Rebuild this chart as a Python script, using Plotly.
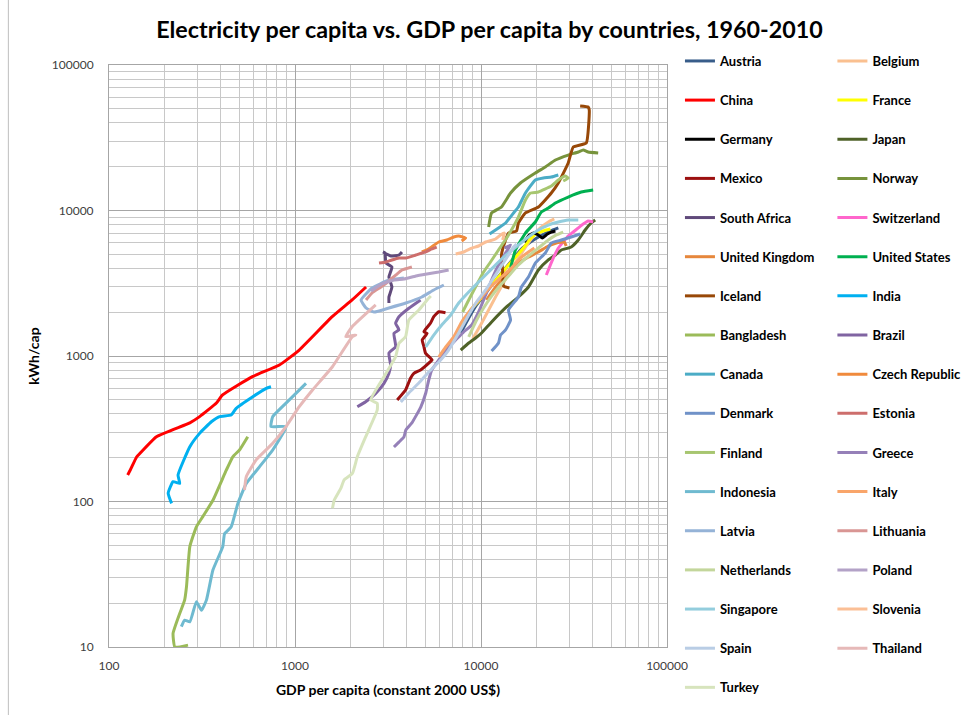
import plotly.graph_objects as go

# ---------------- data (GDP per capita, constant 2000 US$ ; kWh per capita) ----------------
austria_gdp = [7780, 8590, 9465, 10592, 11668, 12882, 14420, 16293, 18450, 20845, 23605, 26044]
austria_kwh = [1439, 1824, 2244, 2710, 3177, 3719, 4426, 5353, 6074, 6683, 7228, 7586]

belgium_gdp = [9016, 9954, 10990, 11967, 13213, 14420, 15885, 17338, 19143, 20845, 23014, 24774]
belgium_kwh = [1309, 1633, 2070, 2544, 3177, 3899, 4715, 5610, 6683, 7586, 8337, 8750]

china_gdp = [126, 130, 141, 147, 180, 272, 307, 378, 408, 590, 824, 1054, 1585, 2028, 2410]
china_kwh = [152, 164, 203, 215, 279, 347, 383, 475, 540, 721, 867, 1099, 1862, 2427, 2979]

france_gdp = [7396, 8068, 8790, 9829, 10990, 12417, 14060, 15524, 16904, 18197, 19364, 20845, 22439, 23605]
france_kwh = [1372, 1714, 2070, 2427, 2931, 3491, 4221, 4868, 5521, 6266, 6792, 7112, 7345, 7464]

germany_gdp = [17123, 17989, 19143, 20350, 21380, 22751, 23878, 25119]
germany_kwh = [6074, 6683, 6998, 6792, 6471, 6894, 7112, 7228]

japan_gdp = [7780, 8590, 9354, 10070, 11402, 13709, 15885, 17989, 20350, 23014, 25119, 27040, 30549, 33343, 36308, 39084, 41115]
japan_kwh = [1099, 1228, 1330, 1439, 1714, 2173, 2544, 2979, 3899, 4571, 4943, 5353, 5610, 6266, 7345, 8204, 8610]

mexico_gdp = [3544, 3931, 4178, 4355, 4732, 5346, 5458, 5035, 4932, 4831, 5130, 4932, 5346, 5572, 5929, 6442]
mexico_kwh = [499, 584, 703, 760, 801, 914, 939, 1045, 1159, 1288, 1432, 1469, 1679, 1862, 2014, 1985]

norway_gdp = [10990, 11402, 12882, 14420, 16293, 19588, 22182, 25119, 29444, 33343, 35450, 37670, 42658]
norway_kwh = [7709, 9616, 10570, 13180, 15450, 18110, 19910, 22230, 24050, 25240, 26060, 25240, 24850]

safrica_gdp = [3199, 3199, 3319, 3199, 3319, 3083, 3046, 2972, 3281, 3622, 3758]
safrica_kwh = [2312, 2544, 2979, 3491, 4093, 4355, 5105, 5188, 4868, 4943, 5188]

swiss_gdp = [22439, 23605, 24774, 26044, 27669, 29444, 31333, 33343, 35450, 37670, 40087]
swiss_kwh = [3606, 4221, 4868, 5521, 6074, 6683, 7112, 7586, 8072, 8472, 8337]

uk_gdp = [10715, 11668, 12882, 14060, 15885, 17989, 20350, 23014, 25410, 28054, 28708]
uk_kwh = [2427, 2844, 3327, 3776, 4355, 4790, 5188, 5702, 5984, 6074, 5702]

us_gdp = [14420, 15311, 17338, 19588, 21111, 23014, 25119, 29444, 34594, 40087]
us_kwh = [4027, 5353, 6998, 8337, 9772, 10400, 11270, 12380, 13400, 13830]

iceland_gdp = [14223, 13213, 13062, 12882, 13552, 14060, 15524, 15885, 17338, 20350, 23878, 26044, 29444, 31333, 36813, 38194, 37670, 34119]
iceland_kwh = [2931, 3027, 3899, 4943, 6266, 6998, 7228, 8204, 9616, 10570, 13180, 15450, 21210, 27320, 29100, 49070, 51420, 52270]

india_gdp = [217, 208, 221, 240, 235, 272, 307, 355, 393, 454, 483, 593, 700, 743]
india_kwh = [97, 114, 137, 133, 152, 238, 294, 353, 383, 393, 437, 525, 600, 615]

bangladesh_gdp = [266, 226, 221, 240, 255, 261, 272, 295, 320, 362, 427, 463, 503, 557]
bangladesh_kwh = [10.3, 10.0, 12.4, 17, 21, 26, 49, 67, 79, 102, 164, 203, 226, 279]

brazil_gdp = [2163, 2400, 2716, 3008, 3199, 3266, 3199, 3475, 3404, 3622, 3475, 3622, 4093, 4732]
brazil_kwh = [448, 485, 554, 649, 760, 867, 1045, 1159, 1432, 1510, 1679, 1862, 2128, 2427]

canada_gdp = [11117, 12417, 13552, 14962, 15885, 17338, 19588, 21627, 23878, 26044]
canada_kwh = [6894, 7586, 8204, 9616, 10570, 13180, 16210, 16730, 16980, 17540]

czech_gdp = [4808, 5236, 5929, 6546, 7135, 7586, 8270, 7870]
czech_kwh = [5188, 5438, 6074, 6266, 6577, 6683, 6471, 6171]

denmark_gdp = [11402, 12417, 12735, 13552, 14420, 14060, 15885, 16482, 17989, 19588, 22182, 23878, 27040, 30549, 34119]
denmark_kwh = [1081, 1228, 1393, 1510, 1767, 2070, 2544, 2979, 3491, 4355, 5105, 5984, 6266, 6577, 6894]

estonia_gdp = [2829, 3083, 3319, 3622, 3945, 4465, 5047, 5433, 5781]
estonia_kwh = [4355, 4426, 4571, 4715, 4715, 4943, 5188, 5438, 5610]

finland_gdp = [7970, 8590, 9465, 10325, 11246, 12417, 14060, 15885, 17338, 18450, 20350, 23878, 26044, 28379, 29444, 27669]
finland_kwh = [2005, 2427, 3076, 3776, 4426, 5353, 6792, 9016, 11800, 13180, 13400, 14720, 16210, 17260, 16730, 15950]

greece_gdp = [3404, 3622, 3850, 3945, 4250, 4745, 5047, 5237, 5433, 5929, 6700, 7311, 8068, 8913, 9706, 10592, 11402, 12417, 13552, 14420, 13366]
greece_kwh = [237, 256, 277, 310, 347, 446, 557, 684, 801, 939, 1153, 1288, 1462, 1633, 2006, 2625, 3327, 4217, 5105, 5794, 5521]

indonesia_gdp = [245, 255, 272, 295, 314, 334, 362, 409, 418, 454, 493, 547, 644, 759, 895, 743, 759, 932, 1146]
indonesia_kwh = [13.8, 15.3, 14.9, 20.5, 17.9, 21, 33.8, 49, 60, 67, 97, 133, 173, 226, 327, 327, 383, 499, 649]

italy_gdp = [5929, 6461, 7135, 7870, 8790, 9954, 11246, 12882, 14588, 16293, 17989, 19364]
italy_kwh = [984, 1153, 1352, 1714, 2070, 2506, 2979, 3491, 4027, 4715, 5188, 5521]

latvia_gdp = [3850, 3199, 2594, 2265, 2410, 2661, 3199, 3945, 4808, 5572, 6310]
latvia_kwh = [3436, 3327, 2931, 2427, 2138, 2005, 2138, 2312, 2544, 2844, 3076]

lithuania_gdp = [2410, 2594, 2897, 3199, 3488, 3758, 4250]
lithuania_kwh = [2427, 2710, 2979, 3278, 3606, 3899, 4093]

netherlands_gdp = [8590, 9354, 10325, 11402, 12735, 14223, 15885, 17989, 20350, 23014, 25410, 27669]
netherlands_kwh = [1352, 1714, 2138, 2582, 3076, 3606, 4221, 4868, 5521, 6266, 6792, 7112]

poland_gdp = [2564, 2935, 3404, 3850, 4465, 5112, 5929, 6700]
poland_kwh = [2799, 3126, 3327, 3381, 3548, 3660, 3776, 3899]

singapore_gdp = [5047, 5572, 6152, 6875, 7586, 8590, 9706, 10990, 12417, 14060, 15885, 17989, 20350, 23014, 26044, 29444, 33343]
singapore_kwh = [1153, 1393, 1633, 1914, 2312, 2754, 3228, 3776, 4426, 5105, 5794, 6577, 7345, 7947, 8337, 8610, 8610]

slovenia_gdp = [7311, 8068, 8913, 9706, 10592, 11967, 12735, 13366, 13062]
slovenia_kwh = [5023, 5188, 5521, 5702, 6074, 6368, 6792, 6998, 6266]

spain_gdp = [3707, 4093, 4634, 5236, 5929, 6700, 7586, 8590, 9465, 10592, 11668, 12882, 14060, 14962, 15524]
spain_kwh = [483, 557, 652, 776, 910, 1099, 1439, 1914, 2350, 2844, 3436, 4159, 4943, 5610, 5888]

thailand_gdp = [535, 547, 618, 759, 895, 1054, 1242, 1589, 2035, 2122, 1875, 2028, 2716]
thailand_kwh = [120, 148, 193, 251, 327, 448, 584, 844, 1358, 1393, 1358, 1589, 2244]

turkey_gdp = [1591, 1624, 1763, 1837, 2035, 2163, 2400, 2768, 2768, 2553, 3008, 3475, 3622, 3931, 4093, 4634, 5130, 5372]
turkey_kwh = [89.8, 102, 123, 141, 156, 203, 279, 425, 473, 499, 721, 989, 1222, 1358, 1767, 2070, 2427, 2584]

countries = ["Austria", "Belgium", "China", "France", "Germany", "Japan", "Mexico", "Norway",
             "South Africa", "Switzerland", "United Kingdom", "United States", "Iceland", "India",
             "Bangladesh", "Brazil", "Canada", "Czech Republic", "Denmark", "Estonia", "Finland",
             "Greece", "Indonesia", "Italy", "Latvia", "Lithuania", "Netherlands", "Poland",
             "Singapore", "Slovenia", "Spain", "Thailand", "Turkey"]

gdp_series = [austria_gdp, belgium_gdp, china_gdp, france_gdp, germany_gdp, japan_gdp, mexico_gdp,
              norway_gdp, safrica_gdp, swiss_gdp, uk_gdp, us_gdp, iceland_gdp, india_gdp,
              bangladesh_gdp, brazil_gdp, canada_gdp, czech_gdp, denmark_gdp, estonia_gdp,
              finland_gdp, greece_gdp, indonesia_gdp, italy_gdp, latvia_gdp, lithuania_gdp,
              netherlands_gdp, poland_gdp, singapore_gdp, slovenia_gdp, spain_gdp, thailand_gdp,
              turkey_gdp]
kwh_series = [austria_kwh, belgium_kwh, china_kwh, france_kwh, germany_kwh, japan_kwh, mexico_kwh,
              norway_kwh, safrica_kwh, swiss_kwh, uk_kwh, us_kwh, iceland_kwh, india_kwh,
              bangladesh_kwh, brazil_kwh, canada_kwh, czech_kwh, denmark_kwh, estonia_kwh,
              finland_kwh, greece_kwh, indonesia_kwh, italy_kwh, latvia_kwh, lithuania_kwh,
              netherlands_kwh, poland_kwh, singapore_kwh, slovenia_kwh, spain_kwh, thailand_kwh,
              turkey_kwh]

colors = ["#385D8A", "#FAC090", "#FF0000", "#FFFF00", "#000000", "#4F6228", "#9C1010", "#77933C",
          "#604A7B", "#FF66CC", "#E6873C", "#00B050", "#984807", "#00B0F0", "#9BBB59", "#8064A2",
          "#4BACC6", "#F08A3C", "#7092C8", "#CD6E6C", "#A7C670", "#9580B8", "#6FBAD0", "#F9A56A",
          "#95B3D7", "#D99694", "#C3D69B", "#B3A2C7", "#93CDDD", "#FBBF96", "#B9CDE5", "#E6B9B8",
          "#D7E4BD"]

x_tick_vals = [100, 1000, 10000, 100000]
x_tick_text = ["100", "1000", "10000", "100000"]
y_tick_vals = [10, 100, 1000, 10000, 100000]
y_tick_text = ["10", "100", "1000", "10000", "100000"]

FONT = "Lato, 'Open Sans', sans-serif"

fig = go.Figure()
for i, (name, gx, ky, col) in enumerate(zip(countries, gdp_series, kwh_series, colors)):
    fig.add_trace(go.Scatter(
        x=gx, y=ky, mode="lines", name=name,
        line=dict(color=col, width=3, shape="spline", smoothing=0.4),
        legendgroup=name,
        legend="legend" if i % 2 == 0 else "legend2",
    ))

legend_common = dict(
    font=dict(family=FONT, size=13, color="#000000", weight="bold"),
    bgcolor="rgba(0,0,0,0)",
    tracegroupgap=19.25,
    yanchor="top",
    itemwidth=30,
    maxheight=700,
)

fig.update_layout(
    width=979, height=715,
    margin=dict(l=109, r=310, t=65, b=68),
    paper_bgcolor="white", plot_bgcolor="white",
    title=dict(text="Electricity per capita vs. GDP per capita by countries, 1960-2010",
               x=0.5, xref="container", xanchor="center",
               y=1 - 30 / 715, yref="container", yanchor="middle",
               font=dict(family=FONT, size=23.3, color="#000000", weight="bold")),
    xaxis=dict(type="log", range=[2, 5], tickvals=x_tick_vals, ticktext=x_tick_text,
               showgrid=True, gridcolor="#A6A6A6", gridwidth=1,
               minor=dict(dtick="D1", showgrid=True, gridcolor="#C8C8C8", gridwidth=1, ticks=""),
               showline=True, linecolor="#A6A6A6", linewidth=1, mirror=True,
               ticks="", ticklabelstandoff=8, zeroline=False,
               tickfont=dict(family=FONT, size=12, color="#404040"),
               title=dict(text="GDP per capita (constant 2000 US$)", standoff=12,
                          font=dict(family=FONT, size=14, color="#000000", weight="bold"))),
    yaxis=dict(type="log", range=[1, 5], tickvals=y_tick_vals, ticktext=y_tick_text,
               showgrid=True, gridcolor="#A6A6A6", gridwidth=1,
               minor=dict(dtick="D1", showgrid=True, gridcolor="#C8C8C8", gridwidth=1, ticks=""),
               showline=True, linecolor="#A6A6A6", linewidth=1, mirror=True,
               ticks="", ticklabelstandoff=12, zeroline=False,
               tickfont=dict(family=FONT, size=12, color="#404040"),
               title=dict(text="kWh/cap", standoff=8,
                          font=dict(family=FONT, size=14, color="#000000", weight="bold"))),
    legend=dict(x=(682 - 109) / 560, y=(647 - 46) / 582, xanchor="left", **legend_common),
    legend2=dict(x=(835 - 109) / 560, y=(647 - 46) / 582, xanchor="left", **legend_common),
    showlegend=True,
)

fig.add_shape(type="line", xref="paper", yref="paper",
              x0=(8 - 109) / 560, x1=(8 - 109) / 560, y0=(647 - 715) / 582, y1=(647 - 0) / 582,
              line=dict(color="#BFBFBF", width=1))

fig.write_html("out.html")
